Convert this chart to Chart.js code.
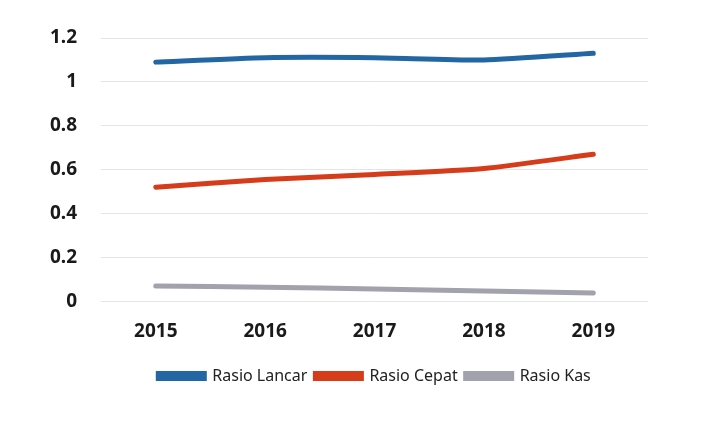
<!DOCTYPE html>
<html>
<head>
<meta charset="utf-8">
<script src="https://cdn.jsdelivr.net/npm/chart.js@4.4.0/dist/chart.umd.min.js"></script>
<style>
  html, body { margin: 0; padding: 0; background: #fff; }
  #wrap { width: 715px; height: 427px; }
</style>
</head>
<body>
<div id="wrap"><canvas id="rasio-chart"></canvas></div>
<script>
const tahun = ['2015', '2016', '2017', '2018', '2019'];
const rasioLancar = [1.09, 1.11, 1.11, 1.10, 1.13];
const rasioCepat = [0.52, 0.555, 0.578, 0.605, 0.67];
const rasioKas = [0.069, 0.064, 0.056, 0.047, 0.037];
const yTicks = [0, 0.2, 0.4, 0.6, 0.8, 1, 1.2];

const ctx = document.getElementById('rasio-chart').getContext('2d');

function seri(label, data, color) {
    return {
        label: label,
        data: data,
        borderColor: color,
        backgroundColor: color,
        borderWidth: 5,
        pointRadius: 0,
        tension: 0.2,
        borderCapStyle: 'round'
    };
}

new Chart(ctx, {
    type: 'line',
    data: {
        labels: tahun,
        datasets: [
            seri('Rasio Lancar', rasioLancar, '#2266a3'),
            seri('Rasio Cepat', rasioCepat, '#d63b1a'),
            seri('Rasio Kas', rasioKas, '#a2a2ac')
        ]
    },
    options: {
        responsive: true,
        maintainAspectRatio: false,
        animation: false,
        layout: { padding: { left: 26, right: 67, top: 38, bottom: 33 } },
        plugins: {
            tooltip: { enabled: false },
            legend: {
                position: 'bottom',
                fullSize: false,
                labels: {
                    boxWidth: 46,
                    boxHeight: 5,
                    padding: 8,
                    color: '#222',
                    font: { family: 'Noto Sans', size: 16 }
                }
            }
        },
        scales: {
            x: {
                offset: true,
                grid: { display: false },
                border: { display: false },
                afterFit: axis => { axis.height += 6; },
                ticks: {
                    color: '#1a1a1a',
                    padding: 11,
                    font: { family: 'Noto Sans', size: 19, weight: 'bold' }
                }
            },
            y: {
                min: 0,
                max: 1.2,
                afterBuildTicks: axis => { axis.ticks = yTicks.map(v => ({ value: v })); },
                grid: { color: '#e4e4e4', lineWidth: 1, drawTicks: false },
                border: { display: false },
                ticks: {
                    color: '#1a1a1a',
                    padding: 24,
                    font: { family: 'Noto Sans', size: 19, weight: 'bold' },
                    callback: v => String(v)
                }
            }
        }
    }
});
</script>
</body>
</html>
